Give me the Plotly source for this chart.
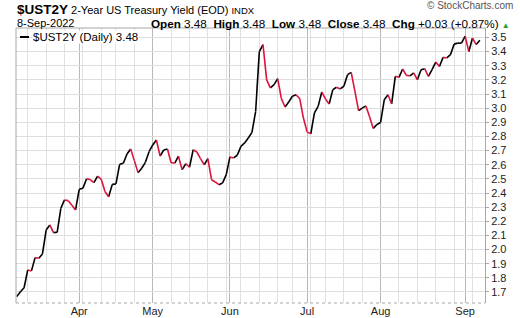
import plotly.graph_objects as go
from datetime import date

# ---- data ----
dates = [
    "2022-03-09", "2022-03-10", "2022-03-11", "2022-03-14", "2022-03-15", "2022-03-16", "2022-03-17", "2022-03-18",
    "2022-03-21", "2022-03-22", "2022-03-23", "2022-03-24", "2022-03-25", "2022-03-28", "2022-03-29", "2022-03-30",
    "2022-03-31", "2022-04-01", "2022-04-04", "2022-04-05", "2022-04-06", "2022-04-07", "2022-04-08", "2022-04-11",
    "2022-04-12", "2022-04-13", "2022-04-14", "2022-04-18", "2022-04-19", "2022-04-20", "2022-04-21", "2022-04-22",
    "2022-04-25", "2022-04-26", "2022-04-27", "2022-04-28", "2022-04-29", "2022-05-02", "2022-05-03", "2022-05-04",
    "2022-05-05", "2022-05-06", "2022-05-09", "2022-05-10", "2022-05-11", "2022-05-12", "2022-05-13", "2022-05-16",
    "2022-05-17", "2022-05-18", "2022-05-19", "2022-05-20", "2022-05-23", "2022-05-24", "2022-05-25", "2022-05-26",
    "2022-05-27", "2022-05-31", "2022-06-01", "2022-06-02", "2022-06-03", "2022-06-06", "2022-06-07", "2022-06-08",
    "2022-06-09", "2022-06-10", "2022-06-13", "2022-06-14", "2022-06-15", "2022-06-16", "2022-06-17", "2022-06-21",
    "2022-06-22", "2022-06-23", "2022-06-24", "2022-06-27", "2022-06-28", "2022-06-29", "2022-06-30", "2022-07-01",
    "2022-07-05", "2022-07-06", "2022-07-07", "2022-07-08", "2022-07-11", "2022-07-12", "2022-07-13", "2022-07-14",
    "2022-07-15", "2022-07-18", "2022-07-19", "2022-07-20", "2022-07-21", "2022-07-22", "2022-07-25", "2022-07-26",
    "2022-07-27", "2022-07-28", "2022-07-29", "2022-08-01", "2022-08-02", "2022-08-03", "2022-08-04", "2022-08-05",
    "2022-08-08", "2022-08-09", "2022-08-10", "2022-08-11", "2022-08-12", "2022-08-15", "2022-08-16", "2022-08-17",
    "2022-08-18", "2022-08-19", "2022-08-22", "2022-08-23", "2022-08-24", "2022-08-25", "2022-08-26", "2022-08-29",
    "2022-08-30", "2022-08-31", "2022-09-01", "2022-09-02", "2022-09-06", "2022-09-07", "2022-09-08",
]
yields = [
    1.667, 1.702, 1.73, 1.856, 1.849, 1.943, 1.938, 1.969,
    2.138, 2.174, 2.12, 2.122, 2.292, 2.351, 2.346, 2.313,
    2.28, 2.426, 2.433, 2.50, 2.495, 2.473, 2.52, 2.497,
    2.41, 2.374, 2.461, 2.464, 2.603, 2.61, 2.676, 2.711,
    2.629, 2.544, 2.575, 2.617, 2.692, 2.74, 2.775, 2.662,
    2.704, 2.711, 2.614, 2.612, 2.66, 2.565, 2.607, 2.582,
    2.706, 2.69, 2.643, 2.60, 2.643, 2.494, 2.478, 2.459,
    2.471, 2.53, 2.655, 2.648, 2.667, 2.73, 2.754, 2.789,
    2.829, 2.978, 3.40, 3.449, 3.20, 3.143, 3.166, 3.209,
    3.067, 3.008, 3.044, 3.084, 3.095, 3.067, 2.93, 2.832,
    2.818, 2.966, 3.013, 3.114, 3.065, 3.03, 3.131, 3.148,
    3.136, 3.155, 3.237, 3.253, 3.12, 2.982, 3.00, 3.016,
    2.94, 2.857, 2.885, 2.899, 3.06, 3.095, 3.03, 3.225,
    3.218, 3.277, 3.232, 3.229, 3.249, 3.201, 3.272, 3.279,
    3.225, 3.272, 3.326, 3.295, 3.359, 3.355, 3.378, 3.453,
    3.46, 3.46, 3.51, 3.40, 3.496, 3.45, 3.48,
]
month_names = ["Jan", "Feb", "Mar", "Apr", "May", "Jun", "Jul", "Aug", "Sep", "Oct", "Nov", "Dec"]
y_ticks = [1.7, 1.8, 1.9, 2.0, 2.1, 2.2, 2.3, 2.4, 2.5, 2.6, 2.7, 2.8, 2.9, 3.0, 3.1, 3.2, 3.3, 3.4, 3.5]

UP = "#000000"
DOWN = "#dc143c"

d_objs = [date.fromisoformat(d) for d in dates]

# month starts (first trading day of each month) and week starts
month_vals, month_text, week_vals = [], [], []
for i, d in enumerate(d_objs):
    if i > 0 and d.month != d_objs[i - 1].month:
        month_vals.append(i)
        month_text.append(month_names[d.month - 1])
    elif i > 0 and d.isocalendar()[1] != d_objs[i - 1].isocalendar()[1]:
        week_vals.append(i)

# split segments into up (black) and down (red)
ux, uy, dx, dy = [], [], [], []
for i in range(1, len(yields)):
    if yields[i] < yields[i - 1]:
        dx += [i - 1, i, None]
        dy += [yields[i - 1], yields[i], None]
    else:
        ux += [i - 1, i, None]
        uy += [yields[i - 1], yields[i], None]

fig = go.Figure()
fig.add_trace(go.Scatter(x=ux, y=uy, mode="lines", line=dict(color=UP, width=1.6),
                         hoverinfo="skip", showlegend=False, connectgaps=False))
fig.add_trace(go.Scatter(x=dx, y=dy, mode="lines", line=dict(color=DOWN, width=1.6),
                         hoverinfo="skip", showlegend=False, connectgaps=False))

FONT = "Liberation Sans, Arial, sans-serif"
W, H = 520, 318
L, R, T, B = 16, 35, 28, 15
pw, ph = W - L - R, H - T - B


def px(x):
    return (x - L) / pw


def py(y):
    return (H - B - y) / ph


fig.update_layout(
    width=W, height=H,
    margin=dict(l=L, r=R, t=T, b=B, pad=0, autoexpand=False),
    paper_bgcolor="white", plot_bgcolor="white",
    font=dict(family=FONT, size=11, color="#222"),
    xaxis=dict(
        range=[-0.2, 127.4], tickmode="array", tickvals=month_vals, ticktext=month_text,
        showgrid=True, gridcolor="#b8b8b8", gridwidth=1, zeroline=False, automargin=False,
        showline=False, ticks="", tickfont=dict(size=11, color="#222"),
        minor=dict(tickmode="array", tickvals=week_vals, showgrid=True, gridcolor="#e0e0e0", gridwidth=1),
    ),
    yaxis=dict(
        range=[1.622, 3.567], side="right", tickmode="array", tickvals=y_ticks,
        ticktext=[f"{v:.1f}" for v in y_ticks], automargin=False,
        showgrid=True, gridcolor="#dedede", gridwidth=1, zeroline=False,
        showline=True, linecolor="#a8a8a8", linewidth=1,
        ticks="outside", ticklen=3, tickcolor="#a8a8a8", tickfont=dict(size=11, color="#222"),
    ),
)

# plot frame
fig.add_shape(type="line", xref="paper", yref="paper", x0=0, x1=1, y0=0, y1=0,
              line=dict(color="#a8a8a8", width=1, dash="dot"))
fig.add_shape(type="line", xref="paper", yref="paper", x0=0, x1=0, y0=0, y1=1,
              line=dict(color="#a8a8a8", width=1))
fig.add_shape(type="line", xref="paper", yref="paper", x0=0, x1=1, y0=1, y1=1,
              line=dict(color="#a8a8a8", width=1))

# header
fig.add_annotation(xref="paper", yref="paper", x=px(15), y=py(9), xanchor="left", yanchor="middle",
                   showarrow=False,
                   text="<b><span style='font-size:13.5px'>$UST2Y</span></b> 2-Year US Treasury Yield (EOD) "
                        "<span style='font-size:9.5px'>INDX</span>",
                   font=dict(family=FONT, size=11, color="#000"))
fig.add_annotation(xref="paper", yref="paper", x=px(15), y=py(23), xanchor="left", yanchor="middle",
                   showarrow=False, text="8-Sep-2022", font=dict(family=FONT, size=11, color="#000"))
fig.add_annotation(xref="paper", yref="paper", x=px(512), y=py(23), xanchor="right", yanchor="middle",
                   showarrow=False,
                   text="<b>Open</b> 3.48  <b>High</b> 3.48  <b>Low</b> 3.48  <b>Close</b> 3.48  "
                        "<b>Chg</b> +0.03 (+0.87%) <span style='color:#2e9e2e;font-size:8px'>▲</span>",
                   font=dict(family=FONT, size=11.7, color="#000"))
fig.add_annotation(xref="paper", yref="paper", x=px(515), y=py(6), xanchor="right", yanchor="middle",
                   showarrow=False, text="© StockCharts.com",
                   font=dict(family=FONT, size=10, color="#555"))

# legend
fig.add_shape(type="line", xref="paper", yref="paper", x0=px(20), x1=px(29), y0=py(37), y1=py(37),
              line=dict(color=UP, width=2))
fig.add_annotation(xref="paper", yref="paper", x=px(32), y=py(37), xanchor="left", yanchor="middle",
                   showarrow=False, text="$UST2Y (Daily) 3.48", bgcolor="white", borderpad=0,
                   font=dict(family=FONT, size=11.5, color="#000"))

fig.write_html("out.html")
